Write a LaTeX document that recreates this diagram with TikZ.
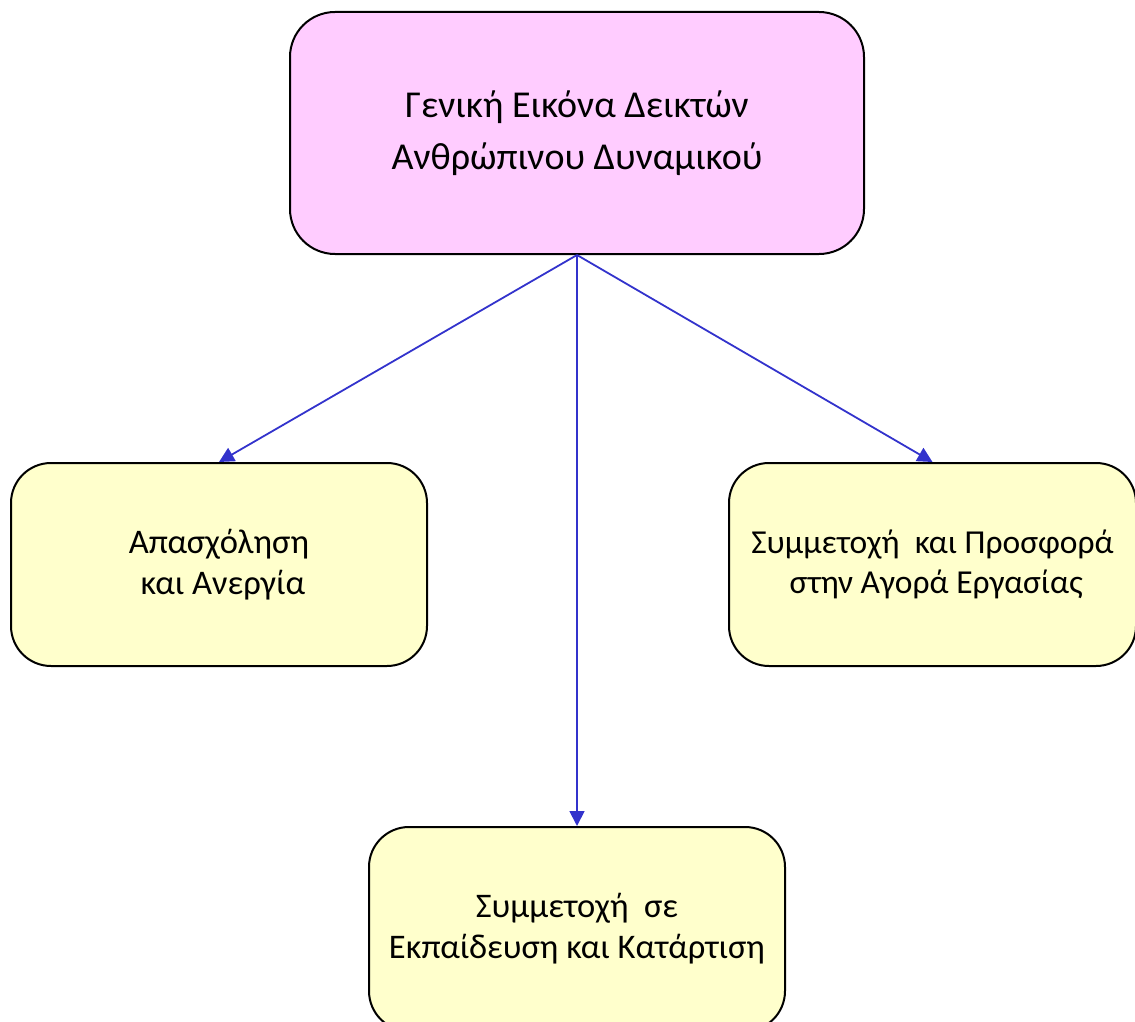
\documentclass[tikz,border=0pt]{standalone}
\usepackage{fontspec}
\setmainfont{Carlito}
\usetikzlibrary{arrows.meta}
\definecolor{pinkfill}{HTML}{FFCCFF}
\definecolor{yellowfill}{HTML}{FFFFCC}
\definecolor{arrowblue}{HTML}{3333CC}
\tikzset{
  box/.style={draw=black, line width=2pt, rectangle, rounded corners=40pt, align=center, inner sep=0pt},
  topbox/.style={box, fill=pinkfill, rounded corners=45pt, font=\fontsize{38}{52}\selectfont},
  subbox/.style={box, fill=yellowfill, font=\fontsize{34.5}{41}\selectfont},
  conn/.style={draw=arrowblue, line width=1.8pt, -{Triangle[length=15pt,width=15pt]}}
}
\begin{document}
\begin{tikzpicture}[x=1pt,y=-1pt]
\useasboundingbox (0,0) rectangle (1135,1022);
\node[topbox, minimum width=574pt, minimum height=242pt] (top) at (577,133) {Γενική Εικόνα Δεικτών\\Ανθρώπινου Δυναμικού};
\node[subbox, minimum width=416pt, minimum height=203pt] (left) at (219,564.5) {Απασχόληση\\~και Ανεργία};
\node[subbox, minimum width=407pt, minimum height=203pt, font=\fontsize{33.5}{40}\selectfont] (right) at (932.5,564.5) {Συμμετοχή~ και Προσφορά\\~στην Αγορά Εργασίας};
\node[subbox, minimum width=416pt, minimum height=204pt] (bottom) at (577,929) {Συμμετοχή~ σε\\Εκπαίδευση και Κατάρτιση};
\draw[conn] (top.south) -- (left.north);
\draw[conn] (top.south) -- (right.north);
\draw[conn] (top.south) -- (bottom.north);
\end{tikzpicture}
\end{document}
